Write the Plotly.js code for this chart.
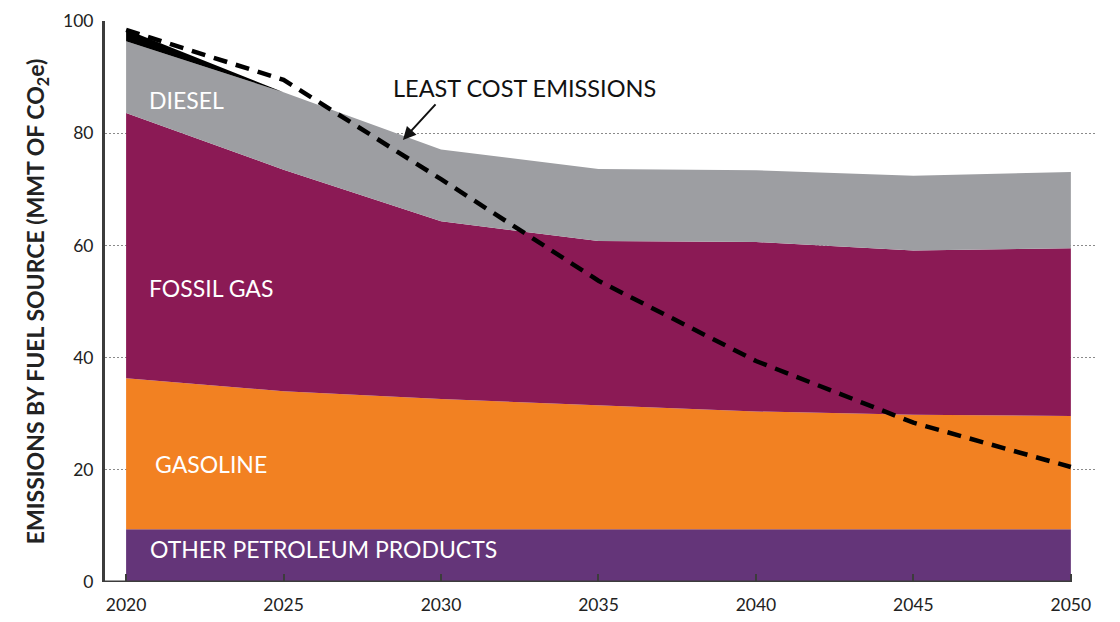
<!DOCTYPE html>
<html>
<head>
<meta charset="utf-8">
<script src="https://cdn.plot.ly/plotly-3.0.1.min.js"></script>
<style>
  html, body { margin: 0; padding: 0; background: #ffffff; }
  #chart { width: 1120px; height: 622px; }
</style>
</head>
<body>
<div id="chart"></div>
<script>
// ---- data (MMT CO2e) ----
const years = [2020, 2025, 2030, 2035, 2040, 2045, 2050];
const otherPetroleum = [9.4, 9.4, 9.4, 9.4, 9.4, 9.4, 9.4];
const gasoline = [26.9, 24.6, 23.2, 22.1, 21.0, 20.4, 20.2];
const fossilGas = [47.3, 39.5, 31.7, 29.3, 30.2, 29.3, 29.9];
const diesel = [12.8, 13.8, 12.8, 12.8, 12.8, 13.3, 13.6];
const otherFuels = [2.1, 0, 0, 0, 0, 0, 0];
const leastCost = [98.4, 89.5, 71.8, 53.7, 39.4, 28.4, 20.5];
const yTicks = [0, 20, 40, 60, 80, 100];

const FONT = 'Lato, "Open Sans", sans-serif';

function layer(name, y, color) {
  return {
    type: 'scatter', mode: 'lines', name: name,
    x: years, y: y, stackgroup: 'one',
    line: {width: 0, color: color}, fillcolor: color,
    hoverinfo: 'x+y+name'
  };
}

const traces = [
  layer('Other petroleum products', otherPetroleum, '#643579'),
  layer('Gasoline', gasoline, '#F28122'),
  layer('Fossil gas', fossilGas, '#8B1A55'),
  layer('Diesel', diesel, '#9D9EA2'),
  layer('Other', otherFuels, '#000000'),
  {
    type: 'scatter', mode: 'lines', name: 'Least cost emissions',
    x: years, y: leastCost,
    line: {color: '#000000', width: 4.5, dash: '14px,9px'}
  }
];

const labelFont = {family: FONT, size: 23, color: '#ffffff'};

const layout = {
  width: 1120, height: 622,
  margin: {l: 105, r: 23, t: 21, b: 40},
  paper_bgcolor: '#ffffff', plot_bgcolor: '#ffffff',
  showlegend: false,
  font: {family: FONT, color: '#222222'},
  xaxis: {
    range: [2019.33, 2050.83],
    tickvals: years, ticktext: years.map(String),
    ticks: 'inside', ticklen: 8, tickwidth: 2, tickcolor: '#3c3c3c',
    showgrid: false, zeroline: false, showline: false,
    tickfont: {family: FONT, size: 17.5, color: '#222222'},
    ticklabelstandoff: 10
  },
  yaxis: {
    range: [0, 100],
    tickvals: yTicks,
    ticks: '', showline: true, linecolor: '#3c3c3c', linewidth: 3,
    showgrid: true, gridcolor: '#8a8a8a', gridwidth: 1, griddash: '2px,2px',
    zeroline: false,
    tickfont: {family: FONT, size: 17.5, color: '#222222'},
    ticklabelstandoff: 5,
    title: {
      text: 'EMISSIONS BY FUEL SOURCE (MMT OF CO<sub>2</sub>e)',
      font: {family: FONT, size: 23, color: '#222222', weight: 700},
      standoff: 12
    }
  },
  shapes: [
    {type: 'line', xref: 'paper', yref: 'y', x0: 0, x1: (2050.03 - 2019.33) / (2050.83 - 2019.33),
     y0: 0, y1: 0, line: {color: '#3c3c3c', width: 3}, layer: 'above'}
  ],
  annotations: [
    {x: 2020.67, y: 85.9, text: 'DIESEL', showarrow: false, xanchor: 'left', yanchor: 'middle', font: labelFont},
    {x: 2020.67, y: 52.4, text: 'FOSSIL GAS', showarrow: false, xanchor: 'left', yanchor: 'middle', font: labelFont},
    {x: 2020.86, y: 21.0, text: 'GASOLINE', showarrow: false, xanchor: 'left', yanchor: 'middle', font: labelFont},
    {x: 2020.70, y: 5.9, text: 'OTHER PETROLEUM PRODUCTS', showarrow: false, xanchor: 'left', yanchor: 'middle', font: labelFont},
    {x: 2028.41, y: 88.1, text: 'LEAST COST EMISSIONS', showarrow: false, xanchor: 'left', yanchor: 'middle',
     font: {family: FONT, size: 23.5, color: '#111111'}},
    {x: 2028.79, y: 78.8, text: '', showarrow: true, arrowhead: 2, arrowsize: 1.3, arrowwidth: 2,
     arrowcolor: '#111111', ax: 34, ay: -37, standoff: 0}
  ]
};

Plotly.newPlot('chart', traces, layout, {displayModeBar: false, staticPlot: true});
</script>
</body>
</html>
